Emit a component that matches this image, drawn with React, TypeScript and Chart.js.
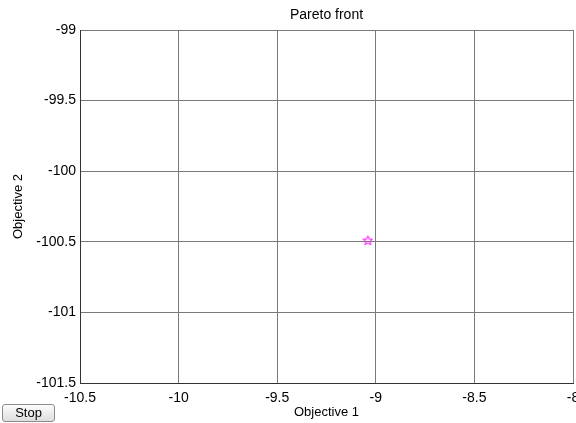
import React, { useEffect, useRef } from "react";
import { Chart, registerables } from "chart.js";

Chart.register(...registerables);

const chartTitle = "Pareto front";
const xAxisTitle = "Objective 1";
const yAxisTitle = "Objective 2";
const xTicks = [-10.5, -10, -9.5, -9, -8.5, -8];
const yTicks = [-101.5, -101, -100.5, -100, -99.5, -99];
const objective1 = [-9.04];
const objective2 = [-100.49];

const FONT = "'Liberation Sans', Arial, Helvetica, sans-serif";
const zeroPad = () => ({ left: 0, right: 0, top: 0, bottom: 0 });

function makePentagram(color: string): HTMLCanvasElement {
  const c = document.createElement("canvas");
  c.width = 11;
  c.height = 11;
  const ctx = c.getContext("2d")!;
  const cx = 5.5, cy = 5.8, R = 5, r = 2.1;
  ctx.beginPath();
  for (let i = 0; i < 10; i++) {
    const ang = -Math.PI / 2 + (i * Math.PI) / 5;
    const rad = i % 2 === 0 ? R : r;
    const px = cx + rad * Math.cos(ang);
    const py = cy + rad * Math.sin(ang);
    if (i === 0) ctx.moveTo(px, py);
    else ctx.lineTo(px, py);
  }
  ctx.closePath();
  ctx.strokeStyle = color;
  ctx.lineWidth = 1;
  ctx.stroke();
  return c;
}

export default function App() {
  const ref = useRef<HTMLCanvasElement | null>(null);

  useEffect(() => {
    if (!ref.current) return;
    const star = makePentagram("#ff00ff");
    const chart = new Chart(ref.current, {
      type: "scatter",
      data: {
        datasets: [
          {
            label: "front",
            data: objective1.map((x, i) => ({ x, y: objective2[i] })),
            pointStyle: star as any,
            pointRadius: 5,
            borderColor: "#ff00ff",
            backgroundColor: "#ff00ff",
          },
        ],
      },
      options: {
        animation: false,
        responsive: false,
        devicePixelRatio: 1,
        layout: { autoPadding: false, padding: { left: 0, right: 3, top: 0, bottom: 0 } },
        plugins: {
          legend: { display: false },
          tooltip: { enabled: false },
          title: {
            display: true,
            text: chartTitle,
            fullSize: false,
            color: "#000",
            font: { family: FONT, size: 14, weight: "normal" },
            padding: { top: 6.6, bottom: 6.6 },
          },
        },
        scales: {
          x: {
            type: "linear",
            min: xTicks[0],
            max: xTicks[xTicks.length - 1],
            afterBuildTicks: (s: any) => {
              s.ticks = xTicks.map((v) => ({ value: v }));
            },
            afterFit: (s: any) => {
              s.height = 40;
              s.paddingLeft = 0;
              s.paddingRight = 0;
              s.getPadding = zeroPad;
            },
            ticks: {
              color: "#000",
              font: { family: FONT, size: 14 },
              padding: 7,
              maxRotation: 0,
              autoSkip: false,
              callback: (v: any) => String(v),
            },
            grid: { color: "#7a7a7a", drawTicks: false, lineWidth: 1 },
            border: { color: "#333", width: 1 },
            title: {
              display: true,
              text: xAxisTitle,
              color: "#000",
              font: { family: FONT, size: 13 },
              padding: { top: 0, bottom: 3 },
            },
          },
          y: {
            type: "linear",
            min: yTicks[0],
            max: yTicks[yTicks.length - 1],
            afterBuildTicks: (s: any) => {
              s.ticks = yTicks.map((v) => ({ value: v }));
            },
            afterFit: (s: any) => {
              s.width = 80;
              s.paddingTop = 0;
              s.paddingBottom = 0;
              s.getPadding = zeroPad;
            },
            ticks: {
              color: "#000",
              font: { family: FONT, size: 14 },
              padding: 4,
              autoSkip: false,
              callback: (v: any) => String(v),
            },
            grid: { color: "#7a7a7a", drawTicks: false, lineWidth: 1 },
            border: { color: "#333", width: 1 },
            title: {
              display: true,
              text: yAxisTitle,
              color: "#000",
              font: { family: FONT, size: 13 },
              padding: { top: 11, bottom: 0 },
            },
          },
        },
      },
    });
    return () => chart.destroy();
  }, []);

  return (
    <div
      style={{
        position: "fixed",
        left: 0,
        top: 0,
        width: 576,
        height: 423,
        background: "#fff",
        overflow: "hidden",
      }}
    >
      <canvas ref={ref} width={576} height={423} style={{ display: "block", width: 576, height: 423 }} />
      <button
        style={{
          position: "absolute",
          left: 2,
          top: 404,
          width: 53,
          height: 18,
          padding: 0,
          fontFamily: FONT,
          fontSize: 13,
          color: "#000",
          background: "linear-gradient(#fcfcfc, #dedede)",
          border: "1px solid #8c8c8c",
          borderRadius: 3,
          lineHeight: "16px",
        }}
      >
        Stop
      </button>
    </div>
  );
}
